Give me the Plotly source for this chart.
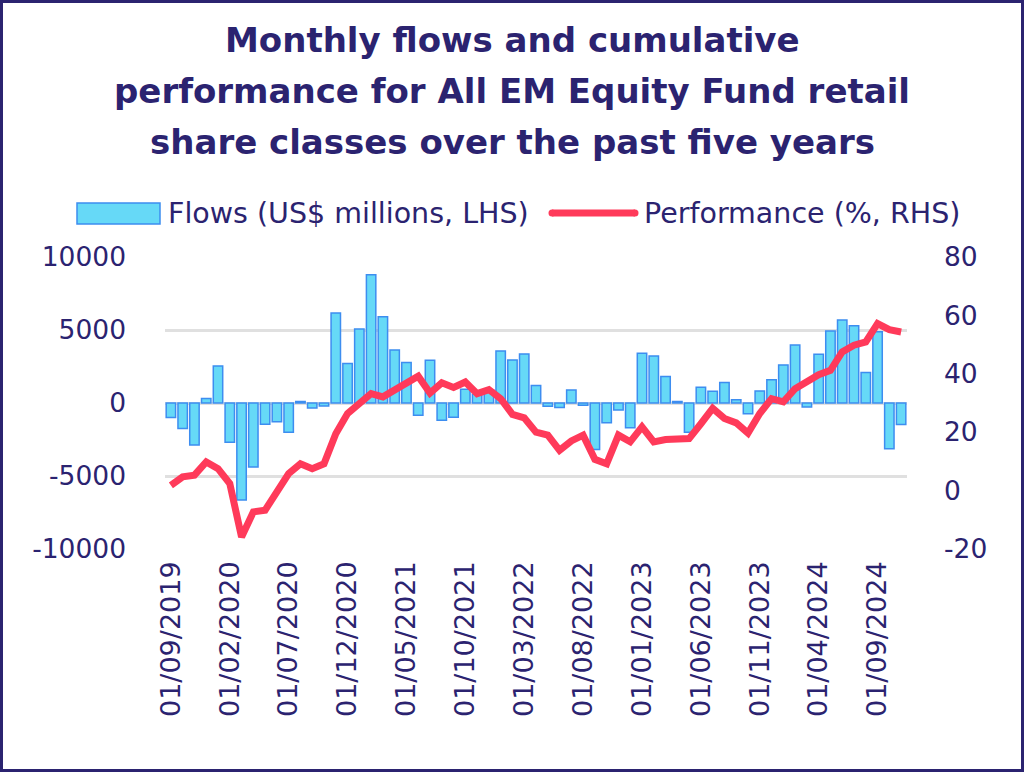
import pandas as pd
import plotly.graph_objects as go

# ---------------- data ----------------
months = [d.strftime("01/%m/%Y") for d in pd.date_range("2019-09-01", "2024-11-01", freq="MS")]

flows = [
    -1000, -1750, -2880, 300, 2540, -2680, -6650, -4380, -1450, -1290,
    -2000, 110, -340, -200, 6170, 2700, 5060, 8790, 5900, 3630,
    2770, -840, 2930, -1180, -980, 950, 600, 900, 3560, 2950,
    3360, 1200, -230, -300, 890, -160, -3180, -1360, -480, -1700,
    3400, 3220, 1820, 110, -2000, 1080, 810, 1410, 230, -730,
    820, 1590, 2610, 3970, -270, 3340, 4930, 5680, 5290, 2090,
    4880, -3130, -1480,
]

performance = [
    1.8, 4.7, 5.3, 9.8, 7.5, 2.4, -15.9, -7.3, -6.7, -0.5,
    5.8, 9.2, 7.5, 9.2, 19.5, 26.4, 30.2, 33.2, 32.1, 34.4,
    37.2, 39.2, 33.4, 36.9, 35.3, 37.2, 33.2, 34.6, 31.5, 26.1,
    24.9, 20.0, 19.0, 13.8, 17.0, 19.0, 10.7, 9.2, 19.0, 16.7,
    21.8, 16.7, 17.5, 17.7, 17.8, 22.9, 28.2, 24.7, 23.2, 19.7,
    26.4, 31.5, 30.4, 34.9, 37.2, 39.7, 41.2, 47.5, 49.8, 50.9,
    57.2, 55.1, 54.3,
]

tick_labels = ["01/09/2019", "01/02/2020", "01/07/2020", "01/12/2020", "01/05/2021",
               "01/10/2021", "01/03/2022", "01/08/2022", "01/01/2023", "01/06/2023",
               "01/11/2023", "01/04/2024", "01/09/2024"]

y_left_ticks = [-10000, -5000, 0, 5000, 10000]
y_left_text = ["-10000", "-5000", "0", "5000", "10000"]
y_right_ticks = [-20, 0, 20, 40, 60, 80]
y_right_text = ["-20", "0", "20", "40", "60", "80"]

title_lines = ["Monthly flows and cumulative",
               "performance for All EM Equity Fund retail",
               "share classes over the past five years"]
flows_name = "Flows (US$ millions, LHS)"
perf_name = "Performance (%, RHS)"

# ---------------- style ----------------
NAVY = "#2B2370"
BAR_FILL = "#66D9F7"
BAR_EDGE = "#3D8DF0"
LINE_RED = "#FF3A5A"
GRID = "#E0E0E0"
FONT = "DejaVu Sans, Verdana, sans-serif"

W, H = 1024, 772
L, R, T, B = 165, 907, 257, 549  # plot area in pixels


def px(xp):
    return (xp - L) / (R - L)


def py(yp):
    return (B - yp) / (B - T)


fig = go.Figure()
fig.add_trace(go.Bar(
    x=months, y=flows, name=flows_name,
    marker=dict(color=BAR_FILL, line=dict(color=BAR_EDGE, width=1.5)),
    yaxis="y", showlegend=False,
))
fig.add_trace(go.Scatter(
    x=months, y=performance, name=perf_name, mode="lines",
    line=dict(color=LINE_RED, width=7, shape="linear"),
    yaxis="y2", showlegend=False,
))

shapes = [
    # outer border
    dict(type="rect", xref="paper", yref="paper",
         x0=px(1.5), x1=px(W - 1.5), y0=py(H - 1.5), y1=py(1.5),
         line=dict(color=NAVY, width=3), fillcolor="rgba(0,0,0,0)", layer="below"),
    # legend: bar swatch
    dict(type="rect", xref="paper", yref="paper",
         x0=px(77), x1=px(160), y0=py(224), y1=py(203),
         line=dict(color=BAR_EDGE, width=1.5), fillcolor=BAR_FILL),
    # legend: line swatch
    dict(type="line", xref="paper", yref="paper",
         x0=px(552), x1=px(635), y0=py(213), y1=py(213),
         line=dict(color=LINE_RED, width=7)),
    dict(type="circle", xref="paper", yref="paper",
         x0=px(548.5), x1=px(555.5), y0=py(216.5), y1=py(209.5),
         line=dict(width=0), fillcolor=LINE_RED),
    dict(type="circle", xref="paper", yref="paper",
         x0=px(631.5), x1=px(638.5), y0=py(216.5), y1=py(209.5),
         line=dict(width=0), fillcolor=LINE_RED),
]

annotations = []
for txt, yp in zip(title_lines, [40, 91, 142]):
    annotations.append(dict(
        text=f"<b>{txt}</b>", xref="paper", yref="paper", x=px(512), y=py(yp),
        xanchor="center", yanchor="middle", showarrow=False,
        font=dict(family=FONT, size=34, color=NAVY)))
annotations.append(dict(
    text=flows_name, xref="paper", yref="paper", x=px(166), y=py(213),
    xanchor="left", yanchor="middle", showarrow=False,
    font=dict(family=FONT, size=28.5, color=NAVY)))
annotations.append(dict(
    text=perf_name, xref="paper", yref="paper", x=px(642), y=py(213),
    xanchor="left", yanchor="middle", showarrow=False,
    font=dict(family=FONT, size=28.5, color=NAVY)))

fig.update_layout(
    width=W, height=H,
    margin=dict(l=L, r=W - R, t=T, b=H - B, pad=0),
    paper_bgcolor="white", plot_bgcolor="white",
    bargap=0.2,
    font=dict(family=FONT, color=NAVY),
    xaxis=dict(
        type="category", tickmode="array", tickvals=tick_labels, ticktext=tick_labels,
        tickangle=-90, tickfont=dict(size=27, color=NAVY), showgrid=False,
        zeroline=False, showline=False, ticks="", ticklabelstandoff=6,
    ),
    yaxis=dict(
        range=[-10000, 10000], tickvals=y_left_ticks, ticktext=y_left_text,
        showgrid=True, gridcolor=GRID, gridwidth=2.5, zeroline=False,
        tickfont=dict(size=26.5, color=NAVY), ticks="", ticklabelstandoff=38,
    ),
    yaxis2=dict(
        range=[-20, 80], tickvals=y_right_ticks, ticktext=y_right_text,
        overlaying="y", side="right",
        showgrid=False, zeroline=False,
        tickfont=dict(size=26.5, color=NAVY), ticks="", ticklabelstandoff=36,
    ),
    shapes=shapes, annotations=annotations,
    showlegend=False,
)

fig.write_html(
    "out.html",
    config={"displayModeBar": False},
    post_script="document.body.style.margin='0';document.body.style.overflow='hidden';",
)
